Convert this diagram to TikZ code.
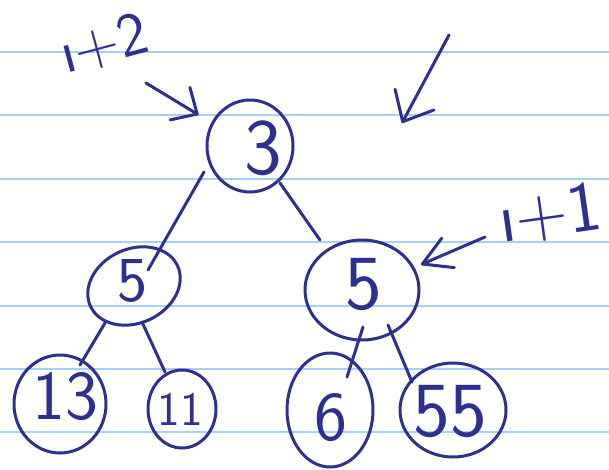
\documentclass[tikz,border=0pt]{standalone}
\usepackage{fontspec}
\usetikzlibrary{shapes.geometric,arrows.meta,calc}
\definecolor{ink}{RGB}{45,48,145}
\definecolor{ruling}{RGB}{165,208,250}
\newcommand\inksize[1]{\fontsize{#1}{#1}\selectfont\sffamily}

\begin{document}
\begin{tikzpicture}[x=1pt,y=-1pt,
  pen/.style={draw=ink, line width=3pt, line cap=round, line join=round},
  bubble/.style={pen, ellipse, inner sep=0pt},
  digit/.style={text=ink, inner sep=0pt},
  barb/.style args={#1/#2}{-{Straight Barb[round,length=#1,width=#2]}}
]
\useasboundingbox (0,0) rectangle (609,469);
\fill[white] (0,0) rectangle (609,469);

% ruled paper
\foreach \y in {52,115.4,178.8,242.2,305.6,369,432.4}
  \draw[ruling, line width=2pt] (0,\y) -- (609,\y);

% tree nodes (outlines)
\node[bubble, minimum width=86, minimum height=92] (r) at (250,146) {};
\node[bubble, minimum width=96, minimum height=74, rotate=25] (l) at (134,286) {};
\node[bubble, minimum width=114, minimum height=100] (R) at (362,290) {};
\node[bubble, minimum width=92, minimum height=98] (a) at (60,404) {};
\node[bubble, minimum width=68, minimum height=78] (b) at (182,409) {};
\node[bubble, minimum width=86, minimum height=114] (c) at (330,410) {};
\node[bubble, minimum width=106, minimum height=94] (d) at (453,410) {};

% values
\node[digit] (tr) at (263,148) {\inksize{80}3};
\node[digit] (tl) at (133,281) {\inksize{64}5};
\node[digit] (tR) at (364,285) {\inksize{78}5};
\node[digit] (ta) at (65,397) {\inksize{70}13};
\node[digit] (tb) at (180,409) {\inksize{48}11};
\node[digit] (tc) at (331,418) {\inksize{70}6};
\node[digit] (td) at (450,412) {\inksize{78}55};

% edges
\draw[pen] ($(r)+(-46,26)$) -- ($(l)+(14,-16)$);
\draw[pen] ($(r)+(30,37)$) -- ($(R)+(-42,-50)$);
\draw[pen] ($(l)+(-29,37)$) -- ($(a)+(20,-39)$);
\draw[pen] ($(l)+(8,36)$) -- ($(b)+(-17,-37)$);
\draw[pen] ($(R)+(1,37)$) -- ($(c)+(17,-33)$);
\draw[pen] ($(R)+(26,35)$) -- ($(d)+(-41,-28)$);

% annotations
\node[digit, rotate=15] (n2) at (104,44) {\inksize{62}ı+2};
\node[digit, rotate=8] (n1) at (550,214) {\inksize{72}ı+1};

\coordinate (p2) at (146,83);
\draw[pen, barb=20pt/38pt, shorten >=15pt] (p2) -- (r);
\coordinate (p1) at (485,237);
\draw[pen, barb=28pt/32pt, shorten >=7pt] (p1) -- (R);

\coordinate (q1) at (449,35);
\coordinate (q2) at (402,123);
\draw[pen, barb=25pt/44pt] (q1) -- (q2);
\end{tikzpicture}
\end{document}
